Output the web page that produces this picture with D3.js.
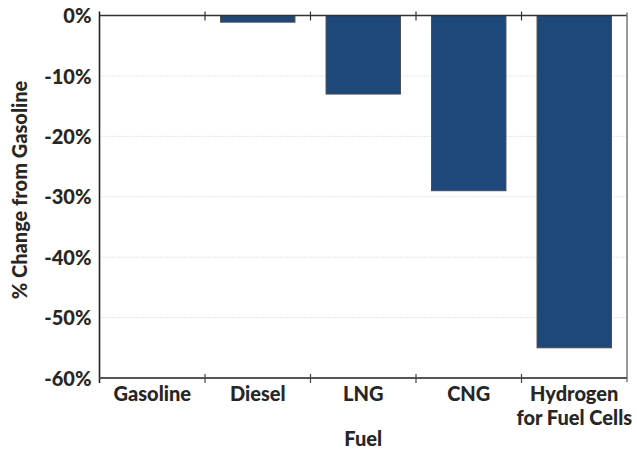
<!DOCTYPE html>
<html><head><meta charset="utf-8">
<script src="https://cdn.jsdelivr.net/npm/d3@7"></script>
<style>
body{margin:0;background:#fff;}
text{font-family:Lato,"Open Sans",sans-serif;font-weight:900;fill:#262626;}
</style></head>
<body><svg id="c" width="637" height="452"></svg>
<script>
const categories = ["Gasoline","Diesel","LNG","CNG","Hydrogen\nfor Fuel Cells"];
const values = [0,-1.1,-13,-29,-55];
const yTicks = [0,-10,-20,-30,-40,-50,-60];
const yTitle = "% Change from Gasoline";
const xTitle = "Fuel";

const svg = d3.select("#c");
const L=99.5, R=627, T=15.5, B=378;
const FS="20px";
const x = d3.scaleBand().domain(categories).range([L,R]).paddingInner(0.295).paddingOuter(0.1475);
const xb = d3.scaleBand().domain(categories).range([L,R]);
const y = d3.scaleLinear().domain([0,-60]).range([T,B]);

// gridlines
svg.append("g").selectAll("line").data(yTicks.filter(d=>d<0&&d>-60)).join("line")
  .attr("x1",L+1).attr("x2",R).attr("y1",d=>y(d)).attr("y2",d=>y(d))
  .attr("stroke","#c8c8c8").attr("stroke-width",1).attr("stroke-dasharray","1,2");

// bars
svg.append("g").selectAll("rect").data(categories.map((c,i)=>({c,v:values[i]})).filter(d=>d.v<0)).join("rect")
  .attr("x",d=>x(d.c)).attr("width",x.bandwidth())
  .attr("y",y(0)).attr("height",d=>y(d.v)-y(0))
  .attr("fill","#1e4879").attr("stroke","#4a4a4a").attr("stroke-width",1);

// frame lines
svg.append("line").attr("x1",L).attr("x2",R).attr("y1",T).attr("y2",T).attr("stroke","#333").attr("stroke-width",1.3);
svg.append("line").attr("x1",R).attr("x2",R).attr("y1",T-3).attr("y2",B+4).attr("stroke","#777").attr("stroke-width",1.5);

// left axis
const ya = d3.axisLeft(y).tickValues(yTicks).tickSize(0).tickPadding(8).tickFormat(d=>d+"%");
const gy = svg.append("g").attr("transform",`translate(${L},0)`).call(ya);
gy.select(".domain").remove();
gy.selectAll("text").style("font-size",FS).attr("dy","0.36em");
svg.append("line").attr("x1",L).attr("x2",L).attr("y1",T-4).attr("y2",B+5).attr("stroke","#222").attr("stroke-width",1.6);

// bottom axis
const xa = d3.axisBottom(xb).tickSize(0).tickFormat("");
const gx = svg.append("g").attr("transform",`translate(0,${B})`).call(xa);
gx.select(".domain").remove();
gx.selectAll(".tick line").remove();
svg.append("line").attr("x1",L).attr("x2",R).attr("y1",B).attr("y2",B).attr("stroke","#555").attr("stroke-width",1.8);

// boundary ticks top & bottom
const bounds = categories.slice(1).map(c=>xb(c));
svg.append("g").selectAll("line").data(bounds).join("line")
  .attr("x1",d=>d).attr("x2",d=>d).attr("y1",T-4).attr("y2",T+5).attr("stroke","#333").attr("stroke-width",1.2);
svg.append("g").selectAll("line").data(bounds).join("line")
  .attr("x1",d=>d).attr("x2",d=>d).attr("y1",B-4).attr("y2",B+5).attr("stroke","#444").attr("stroke-width",1.2);

// category labels (one text per line)
const lines = [];
categories.forEach(c=>c.split("\n").forEach((p,i)=>lines.push({c,p,i})));
svg.append("g").selectAll("text").data(lines).join("text")
  .attr("x",d=>xb(d.c)+xb.bandwidth()/2).attr("y",d=>B+23+d.i*24)
  .attr("text-anchor","middle").style("font-size",FS).text(d=>d.p);

// titles
svg.append("text").attr("x",(L+R)/2).attr("y",446).attr("text-anchor","middle").style("font-size",FS).text(xTitle);
svg.append("text").attr("transform",`translate(27,190) rotate(-90)`).attr("text-anchor","middle").style("font-size",FS).text(yTitle);
</script></body></html>
